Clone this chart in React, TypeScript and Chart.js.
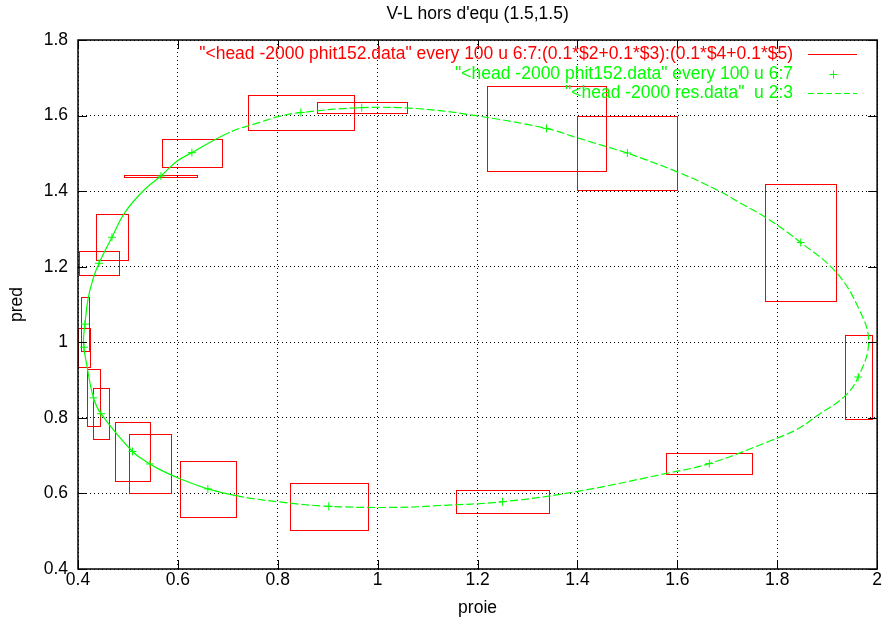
import React, { useEffect, useRef } from "react";
import { Chart, registerables } from "chart.js";

Chart.register(...registerables);

const chartTitle = "V-L hors d'equ (1.5,1.5)";
const xLabel = "proie";
const yLabel = "pred";
const xTicks = [0.4, 0.6, 0.8, 1, 1.2, 1.4, 1.6, 1.8, 2];
const yTicks = [0.4, 0.6, 0.8, 1, 1.2, 1.4, 1.6, 1.8];

// Sampled states (every 100 steps): prey, predator and the box half-sizes
const sampleX = [1.5, 1.338, 0.968, 0.846, 0.628, 0.566, 0.468, 0.442, 0.414, 0.412, 0.431, 0.446, 0.509, 0.544, 0.66, 0.902, 1.25, 1.664, 1.962, 1.847];
const sampleY = [1.501, 1.566, 1.621, 1.608, 1.502, 1.44, 1.278, 1.209, 1.048, 0.987, 0.853, 0.811, 0.711, 0.678, 0.612, 0.566, 0.578, 0.679, 0.908, 1.264];
const sampleDx = [0.1, 0.12, 0.09, 0.106, 0.06, 0.073, 0.032, 0.04, 0.008, 0.012, 0.013, 0.016, 0.035, 0.042, 0.056, 0.078, 0.094, 0.086, 0.027, 0.071];
const sampleDy = [0.099, 0.113, 0.015, 0.046, 0.037, 0.0015, 0.061, 0.032, 0.072, 0.052, 0.075, 0.068, 0.077, 0.078, 0.074, 0.062, 0.03, 0.028, 0.112, 0.156];

// Reference trajectory (res.data, columns 2:3)
const orbitX = [1.5, 1.4, 1.338, 1.2, 1.084, 0.968, 0.846, 0.8, 0.764, 0.704, 0.628, 0.598, 0.566, 0.534, 0.494, 0.468, 0.442, 0.43, 0.42, 0.414, 0.411, 0.418, 0.431, 0.446, 0.509, 0.544, 0.564, 0.604, 0.66, 0.716, 0.8, 0.902, 1.04, 1.124, 1.25, 1.398, 1.578, 1.664, 1.784, 1.84, 1.878, 1.935, 1.962, 1.983, 1.964, 1.918, 1.847, 1.776, 1.724, 1.684, 1.6, 1.5];
const orbitY = [1.501, 1.541, 1.566, 1.599, 1.618, 1.621, 1.608, 1.597, 1.582, 1.556, 1.502, 1.479, 1.44, 1.405, 1.344, 1.278, 1.209, 1.167, 1.114, 1.048, 1.0, 0.937, 0.853, 0.811, 0.711, 0.678, 0.663, 0.639, 0.612, 0.594, 0.578, 0.566, 0.563, 0.568, 0.578, 0.605, 0.653, 0.679, 0.738, 0.77, 0.804, 0.857, 0.908, 1.0, 1.087, 1.185, 1.264, 1.331, 1.37, 1.4, 1.451, 1.501];

const legendLabels = [
  '"<head -2000 phit152.data" every 100 u 6:7:(0.1*$2+0.1*$3):(0.1*$4+0.1*$5)',
  '"<head -2000 phit152.data" every 100 u 6:7',
  '"<head -2000 res.data"  u 2:3',
];

const RED = "#ff0000";
const GREEN = "#00ff00";
const FONT = "'Liberation Sans', Arial, Helvetica, sans-serif";
const FS = 17.5;

const fmt = (v: number) => String(Math.round(v * 10) / 10);
const crisp = (v: number) => Math.round(v) + 0.5;

const decorPlugin = {
  id: "gnuplotDecor",
  beforeDatasetsDraw(chart: any) {
    const { ctx, scales } = chart;
    const xs = scales.x;
    const ys = scales.y;
    ctx.save();
    ctx.strokeStyle = RED;
    ctx.fillStyle = RED;
    ctx.lineWidth = 1;
    for (let i = 0; i < sampleX.length; i++) {
      const l = crisp(xs.getPixelForValue(sampleX[i] - sampleDx[i]));
      const r = crisp(xs.getPixelForValue(sampleX[i] + sampleDx[i]));
      const t = crisp(ys.getPixelForValue(sampleY[i] + sampleDy[i]));
      const b = crisp(ys.getPixelForValue(sampleY[i] - sampleDy[i]));
      if (b - t < 2) {
        // collapsed box: a solid bar
        ctx.fillRect(l - 0.5, t - 0.5, r - l + 1, 2);
      } else {
        ctx.strokeRect(l, t, r - l, b - t);
      }
    }
    ctx.restore();
  },
  afterDraw(chart: any) {
    const { ctx, chartArea, scales } = chart;
    const { left, right, top, bottom } = chartArea;
    const xs = scales.x;
    const ys = scales.y;
    ctx.save();
    // title, centred over the plot frame
    ctx.font = `${FS}px ${FONT}`;
    ctx.fillStyle = "#000";
    ctx.textAlign = "center";
    ctx.textBaseline = "middle";
    ctx.fillText(chartTitle, (left + right) / 2, 14);

    // inward tick marks on all four sides
    ctx.strokeStyle = "#000";
    ctx.lineWidth = 1;
    const tl = 9;
    ctx.beginPath();
    for (const v of xTicks) {
      const p = crisp(xs.getPixelForValue(v));
      ctx.moveTo(p, bottom);
      ctx.lineTo(p, bottom - tl);
      ctx.moveTo(p, top);
      ctx.lineTo(p, top + tl);
    }
    for (const v of yTicks) {
      const p = crisp(ys.getPixelForValue(v));
      ctx.moveTo(left, p);
      ctx.lineTo(left + tl, p);
      ctx.moveTo(right, p);
      ctx.lineTo(right - tl, p);
    }
    ctx.stroke();
    // frame
    ctx.lineWidth = 1.5;
    ctx.strokeRect(left, top, right - left, bottom - top);

    // key, top right
    ctx.textAlign = "right";
    const textRight = 793;
    const sampleL = 808;
    const sampleR = 857;
    const rows = [54, 74, 93];
    const colors = [RED, GREEN, GREEN];
    legendLabels.forEach((lab, i) => {
      ctx.fillStyle = colors[i];
      ctx.fillText(lab, textRight, rows[i]);
    });
    ctx.lineWidth = 1;
    ctx.strokeStyle = RED;
    ctx.beginPath();
    ctx.moveTo(sampleL, crisp(rows[0]));
    ctx.lineTo(sampleR, crisp(rows[0]));
    ctx.stroke();
    ctx.strokeStyle = GREEN;
    const cx = crisp((sampleL + sampleR) / 2);
    const cy = crisp(rows[1]);
    ctx.beginPath();
    ctx.moveTo(cx - 4, cy);
    ctx.lineTo(cx + 4, cy);
    ctx.moveTo(cx, cy - 4);
    ctx.lineTo(cx, cy + 4);
    ctx.stroke();
    ctx.setLineDash([6, 3]);
    ctx.beginPath();
    ctx.moveTo(sampleL, crisp(rows[2]));
    ctx.lineTo(sampleR, crisp(rows[2]));
    ctx.stroke();
    ctx.restore();
  },
};

export default function App() {
  const canvasRef = useRef<HTMLCanvasElement | null>(null);

  useEffect(() => {
    document.body.style.margin = "0";
    const canvas = canvasRef.current;
    if (!canvas) return;
    const font = { family: FONT, size: FS, weight: "normal" as const };
    const chart = new Chart(canvas, {
      type: "scatter",
      data: {
        datasets: [
          {
            label: legendLabels[1],
            data: sampleX.map((x, i) => ({ x, y: sampleY[i] })),
            showLine: false,
            pointStyle: "cross",
            pointRadius: 4,
            pointBorderWidth: 1,
            borderColor: GREEN,
            backgroundColor: GREEN,
          },
          {
            label: legendLabels[2],
            data: orbitX.map((x, i) => ({ x, y: orbitY[i] })),
            showLine: true,
            pointRadius: 0,
            borderColor: GREEN,
            borderWidth: 1.2,
            tension: 0.4,
            segment: {
              borderDash: (c: any) =>
                c.p0.parsed.x < 0.72 && c.p1.parsed.x < 0.72 ? [] : [8, 3],
            },
          },
        ],
      },
      options: {
        animation: false,
        responsive: true,
        maintainAspectRatio: false,
        devicePixelRatio: 1,
        layout: { padding: { left: 0, right: 5, top: 40, bottom: 0 } },
        plugins: {
          legend: { display: false },
          tooltip: { enabled: false },
          title: { display: false },
        },
        scales: {
          x: {
            type: "linear",
            min: 0.4,
            max: 2,
            afterBuildTicks: (s: any) => {
              s.ticks = xTicks.map((v) => ({ value: v }));
            },
            afterFit: (s: any) => {
              s.height = 55;
            },
            ticks: {
              callback: (v: any) => fmt(Number(v)),
              color: "#000",
              font,
              padding: 1,
              maxRotation: 0,
              autoSkip: false,
            },
            grid: { color: "#000", lineWidth: 1, drawTicks: false },
            border: { display: false, dash: [1, 3] },
            title: {
              display: true,
              text: xLabel,
              color: "#000",
              font,
              padding: { top: 0, bottom: 5 },
            },
          },
          y: {
            type: "linear",
            min: 0.4,
            max: 1.8,
            afterBuildTicks: (s: any) => {
              s.ticks = yTicks.map((v) => ({ value: v }));
            },
            afterFit: (s: any) => {
              s.width = 78;
            },
            ticks: {
              callback: (v: any) => fmt(Number(v)),
              color: "#000",
              font,
              padding: 10,
              autoSkip: false,
            },
            grid: { color: "#000", lineWidth: 1, drawTicks: false },
            border: { display: false, dash: [1, 3] },
            title: {
              display: true,
              text: yLabel,
              color: "#000",
              font,
              padding: { top: 7, bottom: 0 },
            },
          },
        },
      },
      plugins: [decorPlugin],
    });
    return () => chart.destroy();
  }, []);

  return (
    <div style={{ width: 883, height: 624, position: "relative" }}>
      <canvas ref={canvasRef} />
    </div>
  );
}
